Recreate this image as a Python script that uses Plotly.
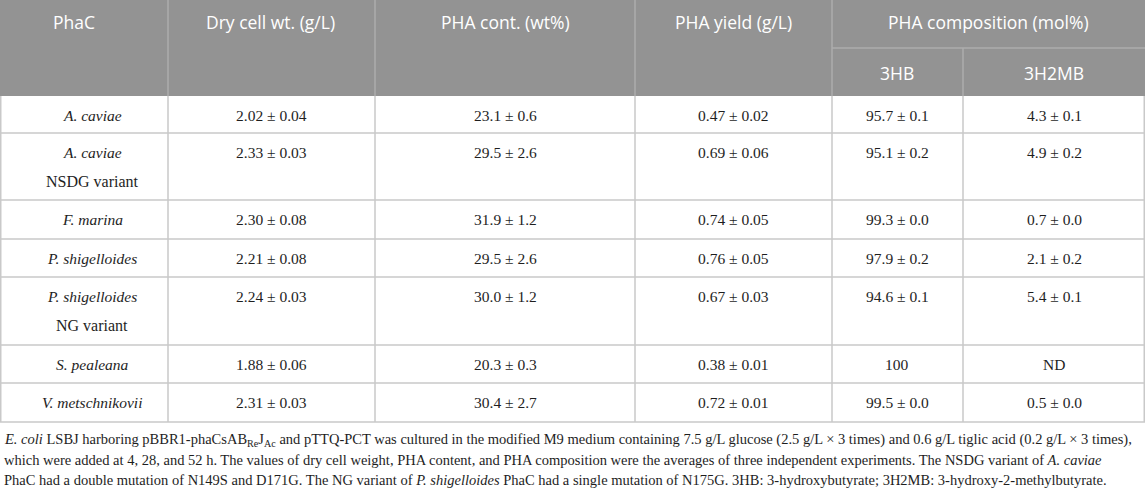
import plotly.graph_objects as go

# table content
header_top = ["PhaC", "Dry cell wt. (g/L)", "PHA cont. (wt%)", "PHA yield (g/L)", "PHA composition (mol%)"]
header_sub = ["3HB", "3H2MB"]
strains = ["A. caviae", "A. caviae", "F. marina", "P. shigelloides", "P. shigelloides", "S. pealeana",
           "V. metschnikovii"]
variants = ["", "NSDG variant", "", "", "NG variant", "", ""]
dry_cell_wt = ["2.02 ± 0.04", "2.33 ± 0.03", "2.30 ± 0.08", "2.21 ± 0.08", "2.24 ± 0.03", "1.88 ± 0.06",
               "2.31 ± 0.03"]
pha_content = ["23.1 ± 0.6", "29.5 ± 2.6", "31.9 ± 1.2", "29.5 ± 2.6", "30.0 ± 1.2", "20.3 ± 0.3", "30.4 ± 2.7"]
pha_yield = ["0.47 ± 0.02", "0.69 ± 0.06", "0.74 ± 0.05", "0.76 ± 0.05", "0.67 ± 0.03", "0.38 ± 0.01",
             "0.72 ± 0.01"]
comp_3hb = ["95.7 ± 0.1", "95.1 ± 0.2", "99.3 ± 0.0", "97.9 ± 0.2", "94.6 ± 0.1", "100", "99.5 ± 0.0"]
comp_3h2mb = ["4.3 ± 0.1", "4.9 ± 0.2", "0.7 ± 0.0", "2.1 ± 0.2", "5.4 ± 0.1", "ND", "0.5 ± 0.0"]
footnote = [
    "<i>E. coli</i> LSBJ harboring pBBR1-phaCsAB<sub>Re</sub>J<sub>Ac</sub> and pTTQ-PCT was cultured in the modified "
    "M9 medium containing 7.5 g/L glucose (2.5 g/L × 3 times) and 0.6 g/L tiglic acid (0.2 g/L × 3 times),",
    "which were added at 4, 28, and 52 h. The values of dry cell weight, PHA content, and PHA composition were the "
    "averages of three independent experiments. The NSDG variant of <i>A. caviae</i>",
    "PhaC had a double mutation of N149S and D171G. The NG variant of <i>P. shigelloides</i> PhaC had a single "
    "mutation of N175G. 3HB: 3-hydroxybutyrate; 3H2MB: 3-hydroxy-2-methylbutyrate.",
]

# geometry (pixels)
W, H = 1145, 488
col_edges = [0, 168, 375, 635, 832, 963, 1145]
col_centers = [92, 271, 505, 733, 897, 1054]
row_edges = [96, 133, 200, 239, 277, 345, 383, 422]
HEAD_FILL = "#939393"
HEAD_LINE = "#acacac"
GRID = "#c9c9c9"
TXT = "#1e1e1e"
SERIF = "Liberation Serif"
SANS = "Open Sans"

fig = go.Figure()
shapes = []
ann = []

# header block
shapes.append(dict(type="rect", x0=0, x1=W, y0=0, y1=row_edges[0], fillcolor=HEAD_FILL, line_width=0, layer="below"))
for x in col_edges[1:5]:
    shapes.append(dict(type="line", x0=x, x1=x, y0=0, y1=row_edges[0], line=dict(color=HEAD_LINE, width=1.5)))
shapes.append(dict(type="line", x0=col_edges[4], x1=W, y0=48, y1=48, line=dict(color=HEAD_LINE, width=1.5)))
shapes.append(dict(type="line", x0=col_edges[5], x1=col_edges[5], y0=48, y1=row_edges[0],
                   line=dict(color=HEAD_LINE, width=1.5)))

head_x = [74, 270, 505, 733, (col_edges[4] + W) / 2]
for txt, x in zip(header_top, head_x):
    ann.append(dict(x=x, y=22, text=txt, font=dict(family=SANS, size=17.5, color="white")))
for txt, x in zip(header_sub, col_centers[4:]):
    ann.append(dict(x=x, y=73, text=txt, font=dict(family=SANS, size=17.5, color="white")))

# body grid
for y in row_edges[1:]:
    shapes.append(dict(type="line", x0=0, x1=W, y0=y, y1=y, line=dict(color=GRID, width=1.5)))
for x in col_edges:
    xx = min(max(x, 0.75), W - 0.75)
    shapes.append(dict(type="line", x0=xx, x1=xx, y0=row_edges[0], y1=row_edges[-1],
                       line=dict(color=GRID, width=1.5)))

# body text
columns = [dry_cell_wt, pha_content, pha_yield, comp_3hb, comp_3h2mb]
for i in range(len(strains)):
    y_top = row_edges[i] + 19.5
    ann.append(dict(x=col_centers[0], y=y_top, text="<i>" + strains[i] + "</i>",
                    font=dict(family=SERIF, size=15.5, color=TXT)))
    if variants[i]:
        ann.append(dict(x=col_centers[0], y=y_top + 28.5, text=variants[i],
                        font=dict(family=SERIF, size=16, color=TXT)))
    for c, vals in enumerate(columns):
        ann.append(dict(x=col_centers[c + 1], y=y_top, text=vals[i],
                        font=dict(family=SERIF, size=15.5, color=TXT)))

# footnote
for k, line in enumerate(footnote):
    ann.append(dict(x=2, y=440 + k * 20, text=line, xanchor="left",
                    font=dict(family=SERIF, size=14.5, color=TXT)))

for a in ann:
    a.setdefault("xanchor", "center")
    a.update(xref="x", yref="y", yanchor="middle", showarrow=False)

fig.update_layout(
    width=W, height=H, margin=dict(l=0, r=0, t=0, b=0),
    paper_bgcolor="white", plot_bgcolor="white",
    xaxis=dict(range=[0, W], visible=False, fixedrange=True),
    yaxis=dict(range=[H, 0], visible=False, fixedrange=True),
    shapes=shapes, annotations=ann, showlegend=False,
)
fig.write_html("out.html", config={"displayModeBar": False},
               post_script="document.body.style.margin='0';")
